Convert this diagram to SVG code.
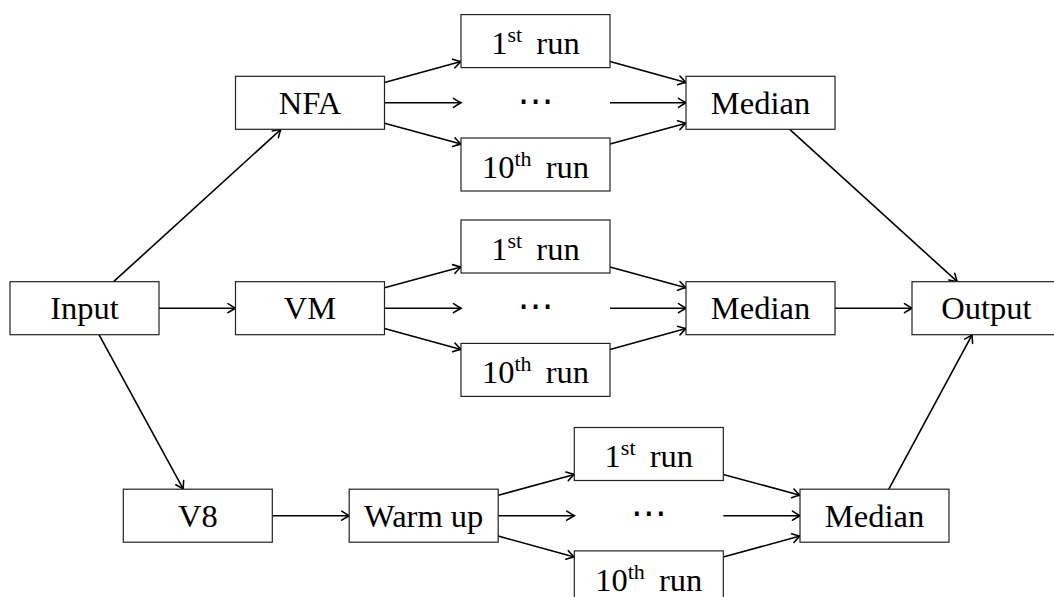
<svg xmlns="http://www.w3.org/2000/svg" width="1054" height="597" viewBox="0 0 1054 597">
<defs>
<style>
.box{fill:#fff;stroke:#222;stroke-width:1.2}
.t{font-family:"Liberation Serif","Times New Roman",serif;font-size:32.5px;fill:#000;text-anchor:middle}
.dots{font-family:"DejaVu Sans",sans-serif;font-size:36px;fill:#000;text-anchor:middle}
.c line{stroke:#000;stroke-width:1.6;fill:none;marker-end:url(#arr)}
</style>
<marker id="arr" markerUnits="userSpaceOnUse" markerWidth="12" markerHeight="12" refX="0" refY="0" viewBox="-9 -6 10 12" orient="auto" overflow="visible">
<path d="M -7.5 -4.5 Q -2.5 -1.2 0 0 Q -2.5 1.2 -7.5 4.5" fill="none" stroke="#000" stroke-width="1.6" stroke-linecap="round"/>
</marker>
</defs>
<rect width="1054" height="597" fill="#fff"/>
<g class="c" id="connectors">
<line x1="113.6" y1="281.7" x2="280.9" y2="129.3"/>
<line x1="159" y1="308.2" x2="235.5" y2="308.2"/>
<line x1="99" y1="334.7" x2="183.3" y2="489.2"/>
<line x1="384.5" y1="82.4" x2="461" y2="61.5"/>
<line x1="384.5" y1="102.8" x2="461" y2="102.8"/>
<line x1="384.5" y1="123.2" x2="461" y2="144.1"/>
<line x1="610" y1="61.5" x2="686" y2="82.4"/>
<line x1="610" y1="102.8" x2="686" y2="102.8"/>
<line x1="610" y1="144.1" x2="686" y2="123.2"/>
<line x1="384.5" y1="287.8" x2="461" y2="267"/>
<line x1="384.5" y1="308.2" x2="461" y2="308.2"/>
<line x1="384.5" y1="328.6" x2="461" y2="349.4"/>
<line x1="610" y1="267" x2="686" y2="287.8"/>
<line x1="610" y1="308.2" x2="686" y2="308.2"/>
<line x1="610" y1="349.4" x2="686" y2="328.6"/>
<line x1="272.3" y1="515.7" x2="349.2" y2="515.7"/>
<line x1="498.2" y1="495.3" x2="574.3" y2="474.4"/>
<line x1="498.2" y1="515.7" x2="574.3" y2="515.7"/>
<line x1="498.2" y1="536.1" x2="574.3" y2="557"/>
<line x1="723.3" y1="474.4" x2="800" y2="495.3"/>
<line x1="723.3" y1="515.7" x2="800" y2="515.7"/>
<line x1="723.3" y1="557" x2="800" y2="536.1"/>
<line x1="789.7" y1="129.3" x2="957.3" y2="281.7"/>
<line x1="835" y1="308.2" x2="912" y2="308.2"/>
<line x1="888.8" y1="489.2" x2="972.2" y2="334.7"/>
</g>
<g id="input"><rect class="box" x="10" y="281.7" width="149" height="53"/><text class="t" x="84.5" y="319">Input</text></g>
<g id="nfa"><rect class="box" x="235.5" y="76.3" width="149" height="53"/><text class="t" x="310" y="113.6">NFA</text></g>
<g id="vm"><rect class="box" x="235.5" y="281.7" width="149" height="53"/><text class="t" x="310" y="319">VM</text></g>
<g id="v8"><rect class="box" x="123.3" y="489.2" width="149" height="53"/><text class="t" x="197.8" y="526.5">V8</text></g>
<g id="warmup"><rect class="box" x="349.2" y="489.2" width="149" height="53"/><text class="t" x="423.7" y="526.5">Warm up</text></g>
<g id="nfa-run1"><rect class="box" x="461" y="14.6" width="149" height="53"/><text class="t" x="535.5" y="54.3">1<tspan font-size="22" dy="-12">st</tspan><tspan dy="12" dx="6"> run</tspan></text></g>
<g id="nfa-dots"><text class="dots" x="535.5" y="112.5">⋯</text></g>
<g id="nfa-run10"><rect class="box" x="461" y="138" width="149" height="53"/><text class="t" x="535.5" y="177.7">10<tspan font-size="22" dy="-12">th</tspan><tspan dy="12" dx="6"> run</tspan></text></g>
<g id="vm-run1"><rect class="box" x="461" y="220" width="149" height="53"/><text class="t" x="535.5" y="259.7">1<tspan font-size="22" dy="-12">st</tspan><tspan dy="12" dx="6"> run</tspan></text></g>
<g id="vm-dots"><text class="dots" x="535.5" y="317.9">⋯</text></g>
<g id="vm-run10"><rect class="box" x="461" y="343.4" width="149" height="53"/><text class="t" x="535.5" y="383.1">10<tspan font-size="22" dy="-12">th</tspan><tspan dy="12" dx="6"> run</tspan></text></g>
<g id="v8-run1"><rect class="box" x="574.3" y="427.5" width="149" height="53"/><text class="t" x="648.8" y="467.2">1<tspan font-size="22" dy="-12">st</tspan><tspan dy="12" dx="6"> run</tspan></text></g>
<g id="v8-dots"><text class="dots" x="648.8" y="525.4">⋯</text></g>
<g id="v8-run10"><rect class="box" x="574.3" y="550.9" width="149" height="53"/><text class="t" x="648.8" y="590.6">10<tspan font-size="22" dy="-12">th</tspan><tspan dy="12" dx="6"> run</tspan></text></g>
<g id="median-nfa"><rect class="box" x="686" y="76.3" width="149" height="53"/><text class="t" x="760.5" y="113.6">Median</text></g>
<g id="median-vm"><rect class="box" x="686" y="281.7" width="149" height="53"/><text class="t" x="760.5" y="319">Median</text></g>
<g id="median-v8"><rect class="box" x="800" y="489.2" width="149" height="53"/><text class="t" x="874.5" y="526.5">Median</text></g>
<g id="output"><rect class="box" x="912" y="281.7" width="149" height="53"/><text class="t" x="986.5" y="319">Output</text></g>
</svg>
